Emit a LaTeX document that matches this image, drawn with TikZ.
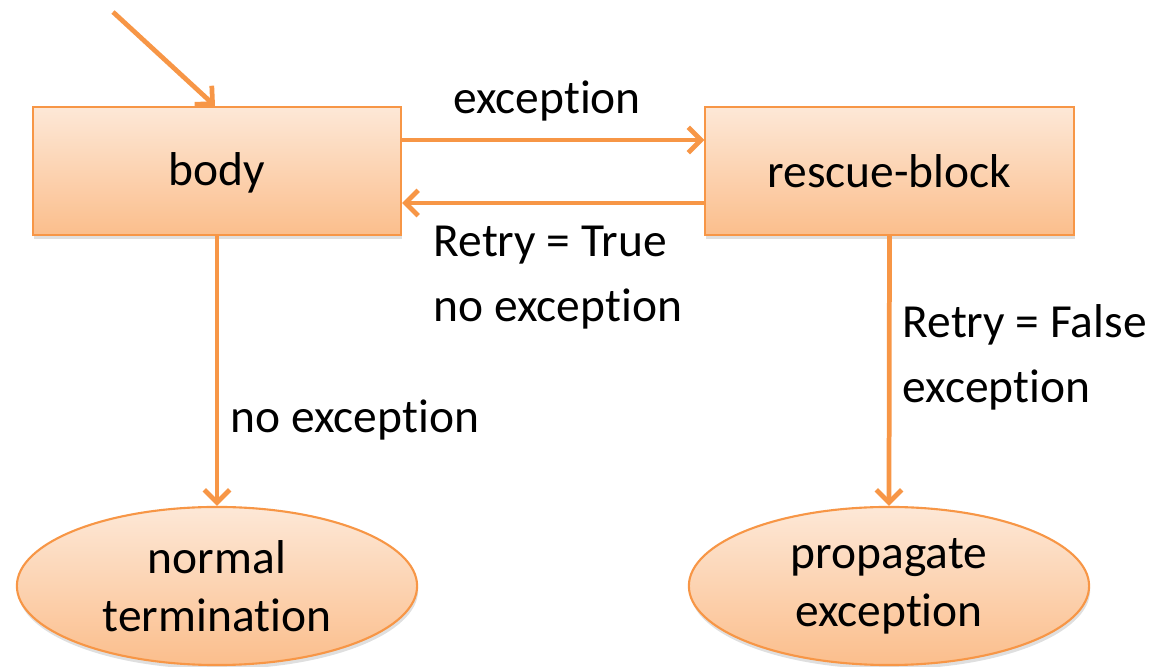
\documentclass[tikz,border=0pt]{standalone}
\usepackage{fontspec}
\setmainfont[Ligatures={NoCommon,NoRequired,NoContextual}]{Carlito}
\usetikzlibrary{arrows.meta,shapes.geometric,shadows}
\definecolor{ostroke}{HTML}{F79646}
\definecolor{otop}{HTML}{FDE8D7}
\definecolor{obot}{HTML}{FBBE8C}
\newcommand\tisep{t\kern0pt i}
\tikzset{
  statebox/.style={rectangle, draw=ostroke, line width=0.6pt, top color=otop, bottom color=obot,
    minimum width=3.68cm, minimum height=1.28cm, inner sep=0pt,
    drop shadow={shadow xshift=0.3pt, shadow yshift=-1.2pt, opacity=0.25},
    font=\fontsize{13.5}{17}\selectfont},
  endstate/.style={ellipse, draw=ostroke, line width=0.6pt, top color=otop, bottom color=obot,
    minimum width=4.0cm, minimum height=1.58cm, inner sep=0pt, align=center,
    drop shadow={shadow xshift=0.3pt, shadow yshift=-1.2pt, opacity=0.25},
    font=\fontsize{13.5}{16.5}\selectfont},
  arr/.style={draw=ostroke, line width=1.35pt, -{Straight Barb[length=3.6pt,width=7.2pt,line width=1.35pt]}},
  lbl/.style={inner sep=0pt, align=left, font=\fontsize{13.5}{18.5}\selectfont},
}
\begin{document}
\begin{tikzpicture}[x=0.01cm,y=-0.01cm]
\useasboundingbox (0,0) rectangle (1162,667);
\node[statebox, text height=10.8pt, text depth=2.6pt] (body) at (217,171) {body};
\node[statebox] (rescue) at (889.5,171) {rescue-block};
\node[endstate] (normal) at (217,586) {normal\\termina\tisep on};
\node[endstate] (prop) at (889,586) {propagate\\excep\tisep on};
\coordinate (start) at (113,12);

\draw[arr] (start) -- ([xshift=-0.02cm]body.north);
\draw[arr] ([yshift=0.31cm]body.east) -- ([yshift=0.31cm]rescue.west);
\draw[arr] ([yshift=-0.32cm]rescue.west) -- ([yshift=-0.32cm]body.east);
\draw[arr] (body.south) -- (normal.north);
\draw[arr] (rescue.south) -- (prop.north);

\node[lbl, anchor=center] (lexc) at (547,101) {excep\tisep on};
\node[lbl, anchor=west] (lretry) at (433,278) {Retry = True\\no excep\tisep on};
\node[lbl, anchor=west] (lfalse) at (902,357) {Retry = False\\excep\tisep on};
\node[lbl, anchor=west] (lnoexc) at (230,420) {no excep\tisep on};
\end{tikzpicture}
\end{document}
